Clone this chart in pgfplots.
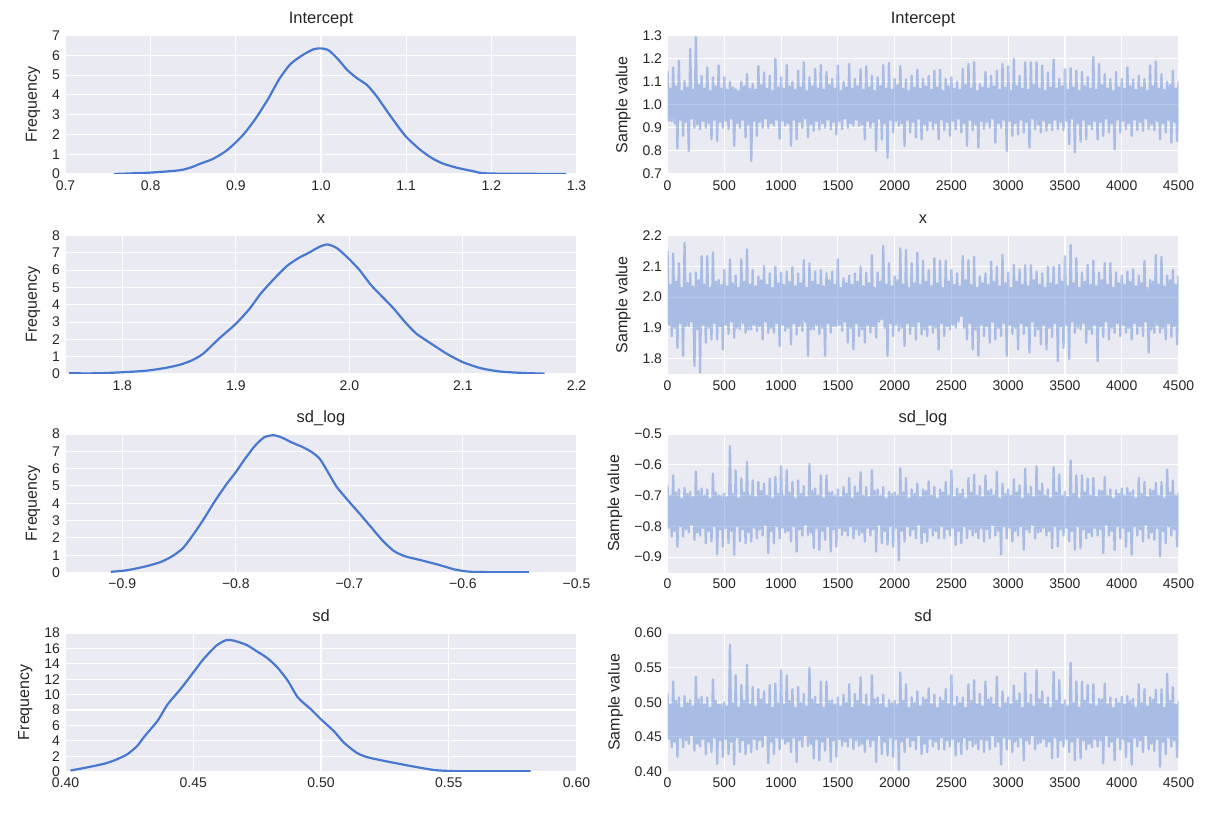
\documentclass[border=0pt]{standalone}
\usepackage{fontspec}
\setmainfont{Liberation Sans}
\usepackage{pgfplots}
\pgfplotsset{compat=1.18}
\definecolor{bg}{HTML}{EAEAF2}
\definecolor{kde}{HTML}{4878CF}
\definecolor{txt}{HTML}{262626}
\newcommand{\ticksize}{\fontsize{14}{14}\selectfont}
\newcommand{\titlesize}{\fontsize{16.5}{16.5}\selectfont}
\newcommand{\labelsize}{\fontsize{16}{16}\selectfont}
\pgfplotsset{
  panel/.style={
    scale only axis, width=511pt, height=138.5pt, anchor=north west,
    axis background/.style={fill=bg},
    axis line style={draw=none},
    xmajorgrids, ymajorgrids,
    major grid style={white, line width=1.1pt},
    major tick length=0pt,
    tick style={draw=none},
    every tick label/.append style={font=\ticksize, text=txt},
    xticklabel style={yshift=-3pt},
    yticklabel style={xshift=-2pt},
    title style={font=\titlesize, text=txt, at={(0.5,1)}, anchor=base, yshift=6pt},
    ylabel style={font=\labelsize, text=txt, yshift=5pt},
  },
  kdep/.style={panel, ylabel={Frequency}},
  trp/.style={panel, ylabel={Sample value}, xmin=0, xmax=4500,
    xtick={0,500,1000,1500,2000,2500,3000,3500,4000,4500},
    xticklabels={0,500,1000,1500,2000,2500,3000,3500,4000,4500}},
  kdeline/.style={color=kde, line width=2.2pt, smooth, tension=0.4, line join=round},
  trline/.style={draw=kde, draw opacity=0.4, line width=2.3pt, line join=round},
}
\begin{document}
\begin{tikzpicture}
\path[use as bounding box] (0pt,0pt) rectangle (1212pt,-812pt);
% ---------------- Row 1: Intercept
\begin{axis}[kdep, at={(65.5pt,-35.5pt)}, title={Intercept},
  xmin=0.7, xmax=1.3, ymin=0, ymax=7,
  xtick={0.7,0.8,0.9,1.0,1.1,1.2,1.3}, xticklabels={0.7,0.8,0.9,1.0,1.1,1.2,1.3},
  ytick={0,1,2,3,4,5,6,7}, yticklabels={0,1,2,3,4,5,6,7}]
\addplot[kdeline] coordinates {(0.757,0)(0.8,0.07)(0.834,0.19)(0.848,0.34)(0.857,0.5)(0.873,0.76)(0.888,1.15)(0.9,1.6)(0.911,2.1)(0.924,2.85)(0.938,3.8)(0.951,4.8)(0.964,5.55)(0.978,6.0)(0.991,6.3)(1.0,6.35)(1.009,6.25)(1.02,5.8)(1.031,5.25)(1.042,4.85)(1.054,4.5)(1.065,3.95)(1.076,3.27)(1.09,2.43)(1.1,1.88)(1.116,1.24)(1.13,0.81)(1.143,0.53)(1.161,0.3)(1.179,0.14)(1.188,0.05)(1.206,0.02)(1.288,0)};
\end{axis}
\begin{axis}[trp, at={(667.5pt,-35.5pt)}, title={Intercept},
  ymin=0.7, ymax=1.3,
  ytick={0.7,0.8,0.9,1.0,1.1,1.2,1.3}, yticklabels={0.7,0.8,0.9,1.0,1.1,1.2,1.3}]
\addplot[trline] table[x expr=\coordindex*12.5, y index=0, header=false, row sep=\\] {
1.148\\0.93\\1.07\\0.93\\1.162\\0.92\\1.08\\0.81\\1.19\\0.935\\1.06\\0.865\\1.104\\0.925\\1.075\\0.80\\1.242\\0.94\\1.065\\0.90\\
1.293\\0.915\\1.085\\0.894\\1.126\\0.93\\1.07\\0.90\\1.162\\0.92\\1.06\\0.85\\1.119\\0.935\\1.08\\0.843\\1.17\\0.925\\1.07\\0.90\\
1.119\\0.93\\1.065\\0.894\\1.10\\0.94\\1.075\\0.822\\1.068\\0.92\\1.06\\0.90\\1.10\\0.935\\1.08\\0.858\\1.133\\0.915\\1.07\\0.757\\
1.09\\0.93\\1.065\\0.865\\1.167\\0.925\\1.085\\0.90\\1.14\\0.94\\1.07\\0.90\\1.126\\0.92\\1.06\\0.909\\1.20\\0.935\\1.075\\0.853\\
1.119\\0.93\\1.07\\0.91\\1.172\\0.92\\1.08\\0.822\\1.10\\0.935\\1.065\\0.85\\1.148\\0.925\\1.075\\0.90\\1.184\\0.94\\1.06\\0.858\\
1.119\\0.915\\1.08\\0.887\\1.155\\0.93\\1.07\\0.894\\1.172\\0.92\\1.065\\0.90\\1.143\\0.935\\1.085\\0.894\\1.112\\0.925\\1.07\\0.872\\
1.17\\0.93\\1.06\\0.894\\1.10\\0.94\\1.075\\0.90\\1.177\\0.92\\1.07\\0.91\\1.112\\0.935\\1.08\\0.909\\1.155\\0.915\\1.065\\0.85\\
1.167\\0.93\\1.075\\0.90\\1.126\\0.925\\1.06\\0.80\\1.119\\0.94\\1.08\\0.85\\1.172\\0.92\\1.07\\0.771\\1.181\\0.935\\1.065\\0.88\\
1.112\\0.93\\1.085\\0.909\\1.167\\0.92\\1.07\\0.822\\1.11\\0.935\\1.06\\0.88\\1.126\\0.925\\1.075\\0.858\\1.152\\0.94\\1.07\\0.85\\
1.112\\0.915\\1.08\\0.89\\1.126\\0.93\\1.065\\0.894\\1.148\\0.92\\1.075\\0.85\\1.152\\0.935\\1.06\\0.89\\1.112\\0.925\\1.08\\0.865\\
1.119\\0.93\\1.07\\0.894\\1.10\\0.94\\1.065\\0.88\\1.155\\0.92\\1.085\\0.822\\1.177\\0.935\\1.07\\0.89\\1.184\\0.915\\1.06\\0.814\\
1.09\\0.93\\1.075\\0.894\\1.143\\0.925\\1.07\\0.90\\1.126\\0.94\\1.08\\0.836\\1.148\\0.92\\1.065\\0.90\\1.177\\0.935\\1.075\\0.80\\
1.167\\0.93\\1.06\\0.865\\1.199\\0.92\\1.08\\0.872\\1.126\\0.935\\1.07\\0.88\\1.184\\0.925\\1.065\\0.814\\1.184\\0.94\\1.085\\0.894\\
1.184\\0.915\\1.07\\0.88\\1.17\\0.93\\1.06\\0.887\\1.14\\0.92\\1.075\\0.89\\1.196\\0.935\\1.07\\0.894\\1.112\\0.925\\1.08\\0.89\\
1.155\\0.93\\1.065\\0.829\\1.158\\0.94\\1.075\\0.793\\1.148\\0.92\\1.06\\0.84\\1.143\\0.935\\1.08\\0.85\\1.12\\0.915\\1.07\\0.894\\
1.206\\0.93\\1.065\\0.85\\1.177\\0.925\\1.085\\0.865\\1.133\\0.94\\1.07\\0.88\\1.112\\0.92\\1.06\\0.807\\1.143\\0.935\\1.075\\0.88\\
1.112\\0.93\\1.07\\0.894\\1.162\\0.92\\1.08\\0.865\\1.11\\0.935\\1.065\\0.89\\1.126\\0.925\\1.075\\0.887\\1.112\\0.94\\1.06\\0.894\\
1.17\\0.915\\1.08\\0.89\\1.187\\0.93\\1.07\\0.85\\1.133\\0.92\\1.065\\0.88\\1.10\\0.935\\1.085\\0.836\\1.148\\0.925\\1.07\\0.843\\
1.10\\};
\end{axis}
% ---------------- Row 2: x
\begin{axis}[kdep, at={(65.5pt,-235.5pt)}, title={x},
  xmin=1.75, xmax=2.2, ymin=0, ymax=8,
  xtick={1.8,1.9,2.0,2.1,2.2}, xticklabels={1.8,1.9,2.0,2.1,2.2},
  ytick={0,1,2,3,4,5,6,7,8}, yticklabels={0,1,2,3,4,5,6,7,8}]
\addplot[kdeline] coordinates {(1.753,0.04)(1.778,0.04)(1.8,0.1)(1.821,0.19)(1.838,0.35)(1.851,0.54)(1.861,0.78)(1.871,1.16)(1.885,2.03)(1.9,2.9)(1.912,3.76)(1.922,4.65)(1.934,5.52)(1.945,6.24)(1.955,6.69)(1.965,7.03)(1.974,7.36)(1.981,7.48)(1.989,7.27)(1.999,6.69)(2.009,6.0)(2.019,5.14)(2.029,4.46)(2.039,3.78)(2.049,3.0)(2.059,2.33)(2.073,1.71)(2.086,1.16)(2.1,0.68)(2.116,0.33)(2.133,0.14)(2.153,0.06)(2.172,0.02)};
\end{axis}
\begin{axis}[trp, at={(667.5pt,-235.5pt)}, title={x},
  ymin=1.75, ymax=2.2,
  ytick={1.8,1.9,2.0,2.1,2.2}, yticklabels={1.8,1.9,2.0,2.1,2.2}]
\addplot[trline] table[x expr=\coordindex*12.5, y index=0, header=false, row sep=\\] {
2.151\\1.91\\2.04\\1.873\\2.142\\1.90\\2.05\\1.835\\2.11\\1.915\\2.03\\1.809\\2.176\\1.905\\2.045\\1.905\\2.077\\1.92\\2.035\\1.776\\
2.08\\1.895\\2.055\\1.755\\2.133\\1.91\\2.04\\1.852\\2.133\\1.90\\2.03\\1.862\\2.145\\1.915\\2.05\\1.862\\2.056\\1.905\\2.04\\1.83\\
2.088\\1.91\\2.035\\1.88\\2.123\\1.92\\2.045\\1.868\\2.07\\1.90\\2.03\\1.895\\2.123\\1.915\\2.05\\1.884\\2.155\\1.895\\2.04\\1.895\\
2.088\\1.91\\2.035\\1.89\\2.067\\1.905\\2.055\\1.862\\2.101\\1.92\\2.04\\1.884\\2.077\\1.90\\2.03\\1.884\\2.099\\1.915\\2.045\\1.841\\
2.08\\1.91\\2.04\\1.89\\2.083\\1.90\\2.05\\1.846\\2.097\\1.915\\2.035\\1.878\\2.077\\1.905\\2.045\\1.89\\2.12\\1.92\\2.03\\1.809\\
2.11\\1.895\\2.05\\1.895\\2.083\\1.91\\2.04\\1.88\\2.088\\1.90\\2.035\\1.809\\2.077\\1.915\\2.055\\1.884\\2.083\\1.905\\2.04\\1.905\\
2.123\\1.91\\2.03\\1.89\\2.061\\1.92\\2.045\\1.852\\2.07\\1.90\\2.04\\1.83\\2.077\\1.915\\2.05\\1.873\\2.099\\1.895\\2.035\\1.852\\
2.08\\1.91\\2.045\\1.884\\2.137\\1.905\\2.03\\1.868\\2.08\\1.92\\2.05\\1.927\\2.166\\1.90\\2.04\\1.809\\2.11\\1.915\\2.035\\1.873\\
2.067\\1.91\\2.055\\1.89\\2.158\\1.90\\2.04\\1.841\\2.153\\1.915\\2.03\\1.88\\2.11\\1.905\\2.045\\1.862\\2.144\\1.92\\2.04\\1.878\\
2.118\\1.895\\2.05\\1.873\\2.088\\1.91\\2.035\\1.884\\2.126\\1.90\\2.045\\1.83\\2.118\\1.915\\2.03\\1.873\\2.118\\1.905\\2.05\\1.895\\
2.088\\1.91\\2.04\\1.90\\2.077\\1.92\\2.035\\1.938\\2.133\\1.90\\2.055\\1.862\\2.12\\1.915\\2.04\\1.83\\2.131\\1.895\\2.03\\1.809\\
2.067\\1.91\\2.045\\1.873\\2.077\\1.905\\2.04\\1.852\\2.115\\1.92\\2.05\\1.862\\2.099\\1.90\\2.035\\1.873\\2.137\\1.915\\2.045\\1.809\\
2.08\\1.91\\2.03\\1.88\\2.104\\1.90\\2.05\\1.83\\2.09\\1.915\\2.04\\1.88\\2.104\\1.905\\2.035\\1.819\\2.104\\1.92\\2.055\\1.873\\
2.083\\1.895\\2.04\\1.846\\2.077\\1.91\\2.03\\1.83\\2.099\\1.90\\2.045\\1.87\\2.099\\1.915\\2.04\\1.792\\2.104\\1.905\\2.05\\1.835\\
2.133\\1.91\\2.035\\1.798\\2.169\\1.92\\2.045\\1.884\\2.126\\1.90\\2.03\\1.895\\2.08\\1.915\\2.05\\1.852\\2.104\\1.895\\2.04\\1.88\\
2.118\\1.91\\2.035\\1.792\\2.08\\1.905\\2.055\\1.87\\2.11\\1.92\\2.04\\1.862\\2.11\\1.90\\2.03\\1.884\\2.08\\1.915\\2.045\\1.873\\
2.07\\1.91\\2.04\\1.884\\2.083\\1.90\\2.05\\1.862\\2.09\\1.915\\2.035\\1.88\\2.07\\1.905\\2.045\\1.873\\2.118\\1.92\\2.03\\1.819\\
2.056\\1.895\\2.05\\1.884\\2.137\\1.91\\2.04\\1.884\\2.131\\1.90\\2.035\\1.862\\2.07\\1.915\\2.055\\1.87\\2.088\\1.905\\2.04\\1.846\\
2.07\\};
\end{axis}
% ---------------- Row 3: sd_log
\begin{axis}[kdep, at={(65.5pt,-434pt)}, title={sd\_log},
  xmin=-0.95, xmax=-0.5, ymin=0, ymax=8,
  xtick={-0.9,-0.8,-0.7,-0.6,-0.5}, xticklabels={−0.9,−0.8,−0.7,−0.6,−0.5},
  ytick={0,1,2,3,4,5,6,7,8}, yticklabels={0,1,2,3,4,5,6,7,8}]
\addplot[kdeline] coordinates {(-0.910,0.04)(-0.896,0.13)(-0.879,0.36)(-0.866,0.61)(-0.856,0.94)(-0.847,1.38)(-0.839,2.05)(-0.829,3.01)(-0.818,4.17)(-0.808,5.12)(-0.8,5.8)(-0.792,6.56)(-0.783,7.33)(-0.775,7.81)(-0.767,7.93)(-0.760,7.81)(-0.751,7.52)(-0.741,7.24)(-0.733,6.95)(-0.726,6.56)(-0.718,5.7)(-0.711,4.93)(-0.7,4.07)(-0.691,3.4)(-0.681,2.63)(-0.671,1.86)(-0.661,1.25)(-0.651,0.94)(-0.637,0.71)(-0.620,0.42)(-0.607,0.17)(-0.593,0.04)(-0.570,0.02)(-0.542,0.02)};
\end{axis}
\begin{axis}[trp, at={(667.5pt,-434pt)}, title={sd\_log},
  ymin=-0.95, ymax=-0.5,
  ytick={-0.9,-0.8,-0.7,-0.6,-0.5}, yticklabels={−0.9,−0.8,−0.7,−0.6,−0.5}]
\addplot[trline] table[x expr=\coordindex*12.5, y index=0, header=false, row sep=\\] {
-0.667\\-0.805\\-0.70\\-0.833\\-0.634\\-0.815\\-0.69\\-0.866\\-0.68\\-0.80\\-0.71\\-0.833\\-0.675\\-0.81\\-0.695\\-0.82\\-0.688\\-0.795\\-0.705\\-0.844\\
-0.622\\-0.82\\-0.685\\-0.83\\-0.677\\-0.805\\-0.70\\-0.855\\-0.68\\-0.815\\-0.71\\-0.849\\-0.629\\-0.80\\-0.69\\-0.89\\-0.699\\-0.81\\-0.70\\-0.866\\
-0.694\\-0.805\\-0.705\\-0.855\\-0.54\\-0.815\\-0.695\\-0.892\\-0.618\\-0.80\\-0.71\\-0.849\\-0.645\\-0.81\\-0.69\\-0.855\\-0.591\\-0.82\\-0.70\\-0.849\\
-0.651\\-0.805\\-0.705\\-0.839\\-0.656\\-0.81\\-0.685\\-0.83\\-0.661\\-0.795\\-0.70\\-0.887\\-0.645\\-0.815\\-0.71\\-0.855\\-0.640\\-0.80\\-0.695\\-0.839\\
-0.605\\-0.805\\-0.70\\-0.82\\-0.618\\-0.815\\-0.69\\-0.849\\-0.656\\-0.80\\-0.71\\-0.882\\-0.651\\-0.81\\-0.695\\-0.83\\-0.67\\-0.795\\-0.705\\-0.828\\
-0.597\\-0.82\\-0.685\\-0.871\\-0.677\\-0.805\\-0.70\\-0.876\\-0.634\\-0.815\\-0.71\\-0.844\\-0.634\\-0.80\\-0.69\\-0.882\\-0.688\\-0.81\\-0.70\\-0.866\\
-0.68\\-0.805\\-0.705\\-0.828\\-0.672\\-0.815\\-0.695\\-0.83\\-0.643\\-0.80\\-0.71\\-0.839\\-0.67\\-0.81\\-0.69\\-0.828\\-0.624\\-0.82\\-0.70\\-0.849\\
-0.672\\-0.805\\-0.705\\-0.83\\-0.618\\-0.81\\-0.685\\-0.882\\-0.68\\-0.795\\-0.70\\-0.855\\-0.672\\-0.815\\-0.71\\-0.860\\-0.688\\-0.80\\-0.695\\-0.866\\
-0.69\\-0.805\\-0.70\\-0.911\\-0.611\\-0.815\\-0.69\\-0.849\\-0.643\\-0.80\\-0.71\\-0.83\\-0.68\\-0.81\\-0.695\\-0.839\\-0.661\\-0.795\\-0.705\\-0.855\\
-0.68\\-0.82\\-0.685\\-0.849\\-0.654\\-0.805\\-0.70\\-0.83\\-0.672\\-0.815\\-0.71\\-0.839\\-0.68\\-0.80\\-0.69\\-0.839\\-0.656\\-0.81\\-0.70\\-0.83\\
-0.618\\-0.805\\-0.705\\-0.860\\-0.677\\-0.815\\-0.695\\-0.855\\-0.68\\-0.80\\-0.71\\-0.839\\-0.643\\-0.81\\-0.69\\-0.83\\-0.632\\-0.82\\-0.70\\-0.839\\
-0.67\\-0.805\\-0.705\\-0.849\\-0.634\\-0.81\\-0.685\\-0.839\\-0.68\\-0.795\\-0.70\\-0.83\\-0.622\\-0.815\\-0.71\\-0.892\\-0.661\\-0.80\\-0.695\\-0.839\\
-0.68\\-0.805\\-0.70\\-0.849\\-0.647\\-0.815\\-0.69\\-0.83\\-0.667\\-0.80\\-0.71\\-0.876\\-0.613\\-0.81\\-0.695\\-0.82\\-0.672\\-0.795\\-0.705\\-0.839\\
-0.605\\-0.82\\-0.685\\-0.817\\-0.661\\-0.805\\-0.70\\-0.83\\-0.68\\-0.815\\-0.71\\-0.871\\-0.608\\-0.80\\-0.69\\-0.866\\-0.632\\-0.81\\-0.70\\-0.83\\
-0.688\\-0.805\\-0.705\\-0.849\\-0.586\\-0.815\\-0.695\\-0.876\\-0.634\\-0.80\\-0.71\\-0.871\\-0.634\\-0.81\\-0.69\\-0.839\\-0.645\\-0.82\\-0.70\\-0.833\\
-0.643\\-0.805\\-0.705\\-0.83\\-0.683\\-0.81\\-0.685\\-0.887\\-0.640\\-0.795\\-0.70\\-0.83\\-0.68\\-0.815\\-0.71\\-0.876\\-0.683\\-0.80\\-0.695\\-0.839\\
-0.677\\-0.805\\-0.70\\-0.866\\-0.675\\-0.815\\-0.69\\-0.892\\-0.683\\-0.80\\-0.71\\-0.83\\-0.643\\-0.81\\-0.695\\-0.849\\-0.656\\-0.795\\-0.705\\-0.839\\
-0.68\\-0.82\\-0.685\\-0.844\\-0.658\\-0.805\\-0.70\\-0.898\\-0.656\\-0.815\\-0.71\\-0.855\\-0.615\\-0.80\\-0.69\\-0.83\\-0.651\\-0.81\\-0.70\\-0.866\\
-0.69\\};
\end{axis}
% ---------------- Row 4: sd
\begin{axis}[kdep, at={(65.5pt,-633pt)}, title={sd},
  xmin=0.40, xmax=0.60, ymin=0, ymax=18,
  xtick={0.40,0.45,0.50,0.55,0.60}, xticklabels={0.40,0.45,0.50,0.55,0.60},
  ytick={0,2,4,6,8,10,12,14,16,18}, yticklabels={0,2,4,6,8,10,12,14,16,18}]
\addplot[kdeline] coordinates {(0.402,0.13)(0.409,0.57)(0.415,1.0)(0.419,1.43)(0.424,2.2)(0.428,3.3)(0.431,4.6)(0.436,6.57)(0.440,8.74)(0.445,10.7)(0.45,12.87)(0.454,14.6)(0.459,16.35)(0.463,17.09)(0.466,17.0)(0.471,16.43)(0.475,15.6)(0.479,14.74)(0.483,13.5)(0.487,11.8)(0.491,9.6)(0.496,8.1)(0.50,6.78)(0.505,5.26)(0.509,3.74)(0.514,2.43)(0.518,1.87)(0.524,1.43)(0.532,0.91)(0.539,0.48)(0.545,0.17)(0.554,0.04)(0.582,0.04)};
\end{axis}
\begin{axis}[trp, at={(667.5pt,-633pt)}, title={sd},
  ymin=0.40, ymax=0.60,
  ytick={0.40,0.45,0.50,0.55,0.60}, yticklabels={0.40,0.45,0.50,0.55,0.60}]
\addplot[trline] table[x expr=\coordindex*12.5, y index=0, header=false, row sep=\\] {
0.513\\0.447\\0.497\\0.435\\0.530\\0.443\\0.502\\0.421\\0.507\\0.449\\0.492\\0.435\\0.509\\0.445\\0.499\\0.440\\0.503\\0.452\\0.494\\0.430\\
0.537\\0.440\\0.504\\0.436\\0.508\\0.447\\0.497\\0.425\\0.507\\0.443\\0.492\\0.428\\0.533\\0.449\\0.502\\0.411\\0.497\\0.445\\0.497\\0.421\\
0.500\\0.447\\0.494\\0.425\\0.583\\0.443\\0.499\\0.410\\0.539\\0.449\\0.492\\0.428\\0.525\\0.445\\0.502\\0.425\\0.554\\0.440\\0.497\\0.428\\
0.522\\0.447\\0.494\\0.432\\0.519\\0.445\\0.504\\0.436\\0.516\\0.452\\0.497\\0.412\\0.525\\0.443\\0.492\\0.425\\0.527\\0.449\\0.499\\0.432\\
0.546\\0.447\\0.497\\0.440\\0.539\\0.443\\0.502\\0.428\\0.519\\0.449\\0.492\\0.414\\0.522\\0.445\\0.499\\0.436\\0.512\\0.452\\0.494\\0.437\\
0.550\\0.440\\0.504\\0.419\\0.508\\0.447\\0.497\\0.416\\0.530\\0.443\\0.492\\0.430\\0.530\\0.449\\0.502\\0.414\\0.503\\0.445\\0.497\\0.421\\
0.507\\0.447\\0.494\\0.437\\0.511\\0.443\\0.499\\0.436\\0.526\\0.449\\0.492\\0.432\\0.512\\0.445\\0.502\\0.437\\0.536\\0.440\\0.497\\0.428\\
0.511\\0.447\\0.494\\0.436\\0.539\\0.445\\0.504\\0.414\\0.507\\0.452\\0.497\\0.425\\0.511\\0.443\\0.492\\0.423\\0.503\\0.449\\0.499\\0.421\\
0.502\\0.447\\0.497\\0.402\\0.543\\0.443\\0.502\\0.428\\0.526\\0.449\\0.492\\0.436\\0.507\\0.445\\0.499\\0.432\\0.516\\0.452\\0.494\\0.425\\
0.507\\0.440\\0.504\\0.428\\0.520\\0.447\\0.497\\0.436\\0.511\\0.443\\0.492\\0.432\\0.507\\0.449\\0.502\\0.432\\0.519\\0.445\\0.497\\0.436\\
0.539\\0.447\\0.494\\0.423\\0.508\\0.443\\0.499\\0.425\\0.507\\0.449\\0.492\\0.432\\0.526\\0.445\\0.502\\0.436\\0.532\\0.440\\0.497\\0.432\\
0.512\\0.447\\0.494\\0.428\\0.530\\0.445\\0.504\\0.432\\0.507\\0.452\\0.497\\0.436\\0.537\\0.443\\0.492\\0.410\\0.516\\0.449\\0.499\\0.432\\
0.507\\0.447\\0.497\\0.428\\0.524\\0.443\\0.502\\0.436\\0.513\\0.449\\0.492\\0.416\\0.542\\0.445\\0.499\\0.440\\0.511\\0.452\\0.494\\0.432\\
0.546\\0.440\\0.504\\0.442\\0.516\\0.447\\0.497\\0.436\\0.507\\0.443\\0.492\\0.419\\0.544\\0.449\\0.502\\0.421\\0.532\\0.445\\0.497\\0.436\\
0.503\\0.447\\0.494\\0.428\\0.557\\0.443\\0.499\\0.416\\0.530\\0.449\\0.492\\0.419\\0.530\\0.445\\0.502\\0.432\\0.525\\0.440\\0.497\\0.435\\
0.526\\0.447\\0.494\\0.436\\0.505\\0.445\\0.504\\0.412\\0.527\\0.452\\0.497\\0.436\\0.507\\0.443\\0.492\\0.416\\0.505\\0.449\\0.499\\0.432\\
0.508\\0.447\\0.497\\0.421\\0.509\\0.443\\0.502\\0.410\\0.505\\0.449\\0.492\\0.436\\0.526\\0.445\\0.499\\0.428\\0.519\\0.452\\0.494\\0.432\\
0.507\\0.440\\0.504\\0.430\\0.518\\0.447\\0.497\\0.407\\0.519\\0.443\\0.492\\0.425\\0.541\\0.449\\0.502\\0.436\\0.522\\0.445\\0.497\\0.421\\
0.502\\};
\end{axis}
\end{tikzpicture}
\end{document}
